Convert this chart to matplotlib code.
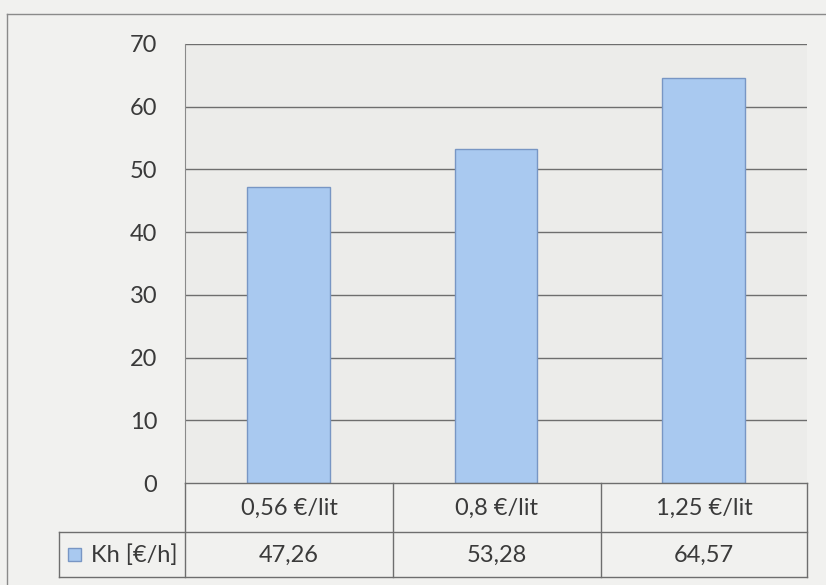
import numpy as np
import matplotlib.pyplot as plt
from matplotlib.lines import Line2D
from matplotlib.patches import Rectangle

plt.rcParams['font.family'] = ['Lato', 'DejaVu Sans']

# fuel price cases and hourly cost
categories = ["0,56 €/lit", "0,8 €/lit", "1,25 €/lit"]
kh_values = [47.26, 53.28, 64.57]
series_name = "Kh [€/h]"
yticks = [0, 10, 20, 30, 40, 50, 60, 70]

W, H = 826, 585
bar_color = "#a9c9f0"
edge_color = "#7896c4"
line_color = "#6e6e6e"
text_color = "#3a3a3a"
fs = 17

fig = plt.figure(figsize=(W / 100, H / 100), dpi=100, facecolor="#f1f1ef")


def fx(px):
    return px / W


def fy(py):
    return 1 - py / H


def hline(y, x0, x1, color=line_color, lw=1.0):
    fig.add_artist(Line2D([fx(x0), fx(x1)], [fy(y), fy(y)],
                          transform=fig.transFigure, color=color, lw=lw))


def vline(x, y0, y1, color=line_color, lw=1.0):
    fig.add_artist(Line2D([fx(x), fx(x)], [fy(y0), fy(y1)],
                          transform=fig.transFigure, color=color, lw=lw))


# plot area
left, right, top, bottom = 185, 807, 44, 483
ax = fig.add_axes([fx(left), fy(bottom), fx(right - left), (bottom - top) / H])
ax.set_facecolor("#ececea")

x = np.arange(len(categories))
ax.bar(x, kh_values, width=0.4, color=bar_color, edgecolor=edge_color,
       linewidth=1.0, zorder=3)
ax.set_xlim(-0.5, len(categories) - 0.5)
ax.set_ylim(0, 70)
ax.set_yticks(yticks)
ax.set_yticklabels([str(t) for t in yticks], fontsize=fs, color=text_color)
ax.tick_params(axis="y", length=0, pad=20)
ax.set_xticks([])
for t in yticks[1:]:
    ax.axhline(t, color=line_color, lw=1.0, zorder=1)
for side in ["top", "right", "bottom"]:
    ax.spines[side].set_visible(False)
ax.spines["left"].set_color("#8a8a8a")

# data table below the chart
row1, row2, row3 = bottom, 532, 577
col_edges = [left, 393, 601, right]
hline(row1, left, right)
hline(row2, 59, right)
hline(row3, 59, right)
for cx in col_edges:
    vline(cx, row1, row3)
vline(59, row2, row3)

for i, cat in enumerate(categories):
    cx = (col_edges[i] + col_edges[i + 1]) / 2
    fig.text(fx(cx), fy((row1 + row2) / 2 + 1), cat, ha="center", va="center",
             fontsize=fs, color=text_color)
    fig.text(fx(cx), fy((row2 + row3) / 2 + 1), f"{kh_values[i]:.2f}".replace(".", ","),
             ha="center", va="center", fontsize=fs, color=text_color)

# legend key in the first column
fig.add_artist(Rectangle((fx(68), fy(561)), fx(13), 13 / H, transform=fig.transFigure,
                         facecolor=bar_color, edgecolor=edge_color, lw=1.0))
fig.text(fx(91), fy((row2 + row3) / 2 + 1), series_name, ha="left", va="center",
         fontsize=fs, color=text_color)

# outer chart frame
hline(14, 7, W, color="#8a8a8a")
vline(7, 14, H, color="#8a8a8a")

fig.savefig("out.png", dpi=100, facecolor=fig.get_facecolor())
